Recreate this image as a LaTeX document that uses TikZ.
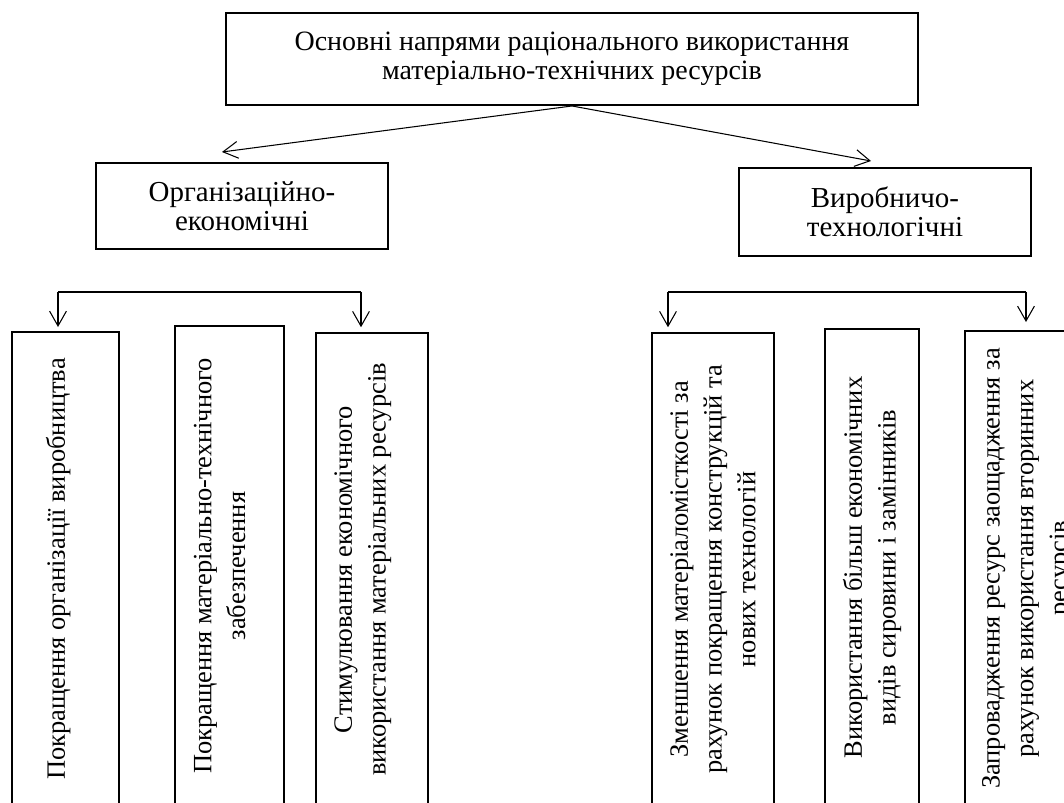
\documentclass[tikz,border=0pt]{standalone}
\usepackage{fontspec}
\setmainfont{Liberation Serif}
\usepackage{tikz}
\usetikzlibrary{arrows.meta,positioning,calc}

\tikzset{
    box/.style={draw, line width=1.4pt, align=center, inner sep=0pt, font=\fontsize{20.6}{20.6}\selectfont},
    vbox/.style={draw, line width=1.4pt, align=center, inner sep=0pt, rotate=90, font=\fontsize{18.8}{24}\selectfont},
    lift/.style={text depth=#1},
    arr/.style={-{Straight Barb[length=3.7mm,width=4.2mm]}, line width=0.75pt},
}

\begin{document}
\begin{tikzpicture}
    \useasboundingbox (0,0) rectangle (26.6,-20.075);
    \clip (0,0) rectangle (26.6,-20.075);

    % Top level
    \node[box, font=\fontsize{19.9}{20.6}\selectfont, minimum width=17.3cm, minimum height=2.3cm] (main) at (14.3,-1.475)
        {Основні напрями раціонального використання\\матеріально-технічних ресурсів};

    % Two groups
    \node[box, minimum width=7.3cm, minimum height=2.15cm] (org) at (6.05,-5.15) {Організаційно-\\економічні};
    \node[box, minimum width=7.3cm, minimum height=2.2cm] (vyr) at (22.125,-5.3) {Виробничо-\\технологічні};

    \coordinate (orgtip) at (5.55,-3.8);
    \coordinate (vyrtip) at (21.775,-4.025);
    \draw[arr] (main.south) -- (orgtip);
    \draw[arr] (main.south) -- (vyrtip);

    % Directions (boxes run past the lower edge)
    \node[vbox, lift=5mm, minimum width=11.85cm, minimum height=2.675cm] (b1) at (1.6375,-14.225)
        {Покращення організації виробництва};
    \node[vbox, lift=5mm, minimum width=12cm, minimum height=2.725cm] (b2) at (5.7375,-14.15)
        {Покращення матеріально-технічного\\забезпечення};
    \node[vbox, lift=6mm, minimum width=11.825cm, minimum height=2.8cm] (b3) at (9.3,-14.2375)
        {Стимулювання економічного\\використання матеріальних ресурсів};
    \node[vbox, minimum width=11.825cm, minimum height=3.05cm] (b4) at (17.825,-14.2375)
        {Зменшення матеріаломісткості за\\рахунок покращення конструкцій та\\нових технологій};
    \node[vbox, minimum width=11.925cm, minimum height=2.35cm] (b5) at (21.8,-14.1875)
        {Використання більш економічних\\видів сировини і замінників};
    \node[vbox, minimum width=11.875cm, minimum height=3.125cm] (b6) at (25.6875,-14.2125)
        {Запровадження ресурс заощадження за\\рахунок використання вторинних\\ресурсів};

    % Brackets
    \coordinate (l1) at (1.45,-7.3);
    \coordinate (l3) at (9.025,-7.3);
    \coordinate (r1) at (16.7,-7.3);
    \coordinate (r3) at (25.65,-7.3);
    \draw[line width=1pt] (l1) -- (l3);
    \draw[line width=1pt] (r1) -- (r3);
    \draw[arr, shorten >=1mm] (l1) -- (l1 |- b1.east);
    \draw[arr, shorten >=1.2mm] (l3) -- (l3 |- b3.east);
    \draw[arr, shorten >=1.2mm] (r1) -- (r1 |- b4.east);
    \draw[arr, shorten >=2mm] (r3) -- (r3 |- b6.east);
\end{tikzpicture}
\end{document}
